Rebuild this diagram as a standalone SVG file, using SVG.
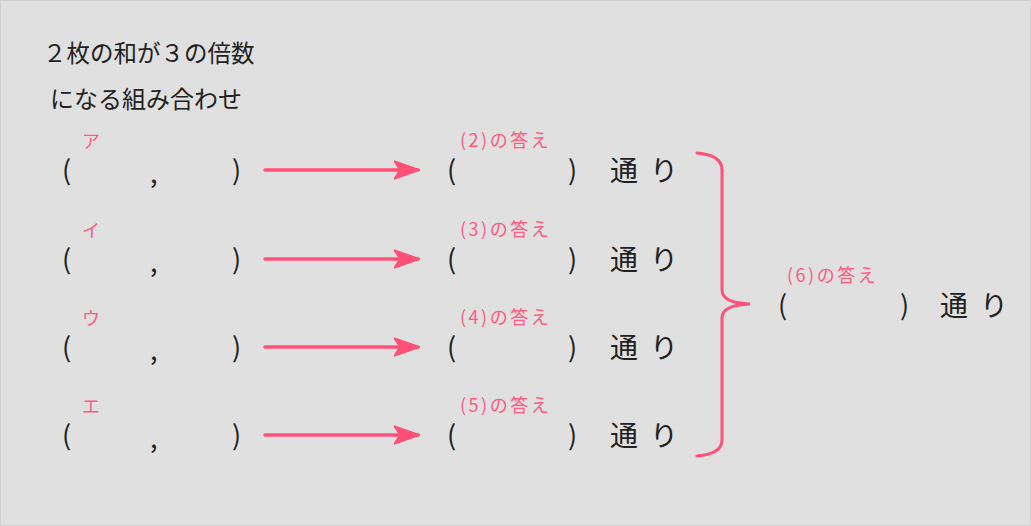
<svg xmlns="http://www.w3.org/2000/svg" width="1031" height="526" viewBox="0 0 1031 526">
<style>
.t{font-family:"Noto Sans CJK JP","Noto Sans",sans-serif;fill:#222;}
.big{font-size:27px;}
.tr{font-size:28px;letter-spacing:12px;}
.ttl{font-size:23.5px;}
.lab{font-family:"Noto Sans CJK JP","Noto Sans",sans-serif;fill:#ff5a80;font-size:18px;letter-spacing:2.5px;}
.conn{stroke:#ff5077;stroke-width:3.5;fill:none;stroke-linecap:round;}
.brace{stroke:#ff5077;stroke-width:3;fill:none;stroke-linecap:round;}
</style>
<defs>
<marker id="ah" markerWidth="26" markerHeight="20" refX="24" refY="10" orient="auto" markerUnits="userSpaceOnUse" viewBox="0 0 26 20">
<path d="M0,1 L26,10 L0,19 L6,10 Z" fill="#ff5077" stroke="#ff5077" stroke-width="1.5" stroke-linejoin="round"/>
</marker>
</defs>
<rect x="0.5" y="0.5" width="1030" height="525" fill="#e0e0e0" stroke="#d0d0d0"/>
<g id="title">
<text class="t ttl" x="43" y="62">２枚の和が３の倍数</text>
<text class="t ttl" x="50" y="108" style="font-size:24px">になる組み合わせ</text>
</g>
<g id="row1">
<text class="t big" x="62" y="180">(</text><text class="t big" x="150" y="183">,</text><text class="t big" x="232" y="180">)</text>
<text class="lab" x="82" y="148">ア</text>
</g>
<g id="row2">
<text class="t big" x="62" y="269">(</text><text class="t big" x="150" y="272">,</text><text class="t big" x="232" y="269">)</text>
<text class="lab" x="82" y="237">イ</text>
</g>
<g id="row3">
<text class="t big" x="62" y="357">(</text><text class="t big" x="150" y="360">,</text><text class="t big" x="232" y="357">)</text>
<text class="lab" x="82" y="325">ウ</text>
</g>
<g id="row4">
<text class="t big" x="62" y="445">(</text><text class="t big" x="150" y="448">,</text><text class="t big" x="232" y="445">)</text>
<text class="lab" x="82" y="413">エ</text>
</g>
<g id="ans2">
<text class="t big" x="447" y="180">(</text><text class="t big" x="568" y="180">)</text>
<text class="t tr" x="610" y="181">通り</text>
<text class="lab" x="460" y="147">(2)の答え</text>
</g>
<g id="ans3">
<text class="t big" x="447" y="269">(</text><text class="t big" x="568" y="269">)</text>
<text class="t tr" x="610" y="270">通り</text>
<text class="lab" x="460" y="236">(3)の答え</text>
</g>
<g id="ans4">
<text class="t big" x="447" y="357">(</text><text class="t big" x="568" y="357">)</text>
<text class="t tr" x="610" y="358">通り</text>
<text class="lab" x="460" y="324">(4)の答え</text>
</g>
<g id="ans5">
<text class="t big" x="447" y="445">(</text><text class="t big" x="568" y="445">)</text>
<text class="t tr" x="610" y="446">通り</text>
<text class="lab" x="460" y="412">(5)の答え</text>
</g>
<g id="ans6">
<text class="t big" x="778" y="315">(</text><text class="t big" x="900" y="315">)</text>
<text class="t tr" x="940" y="316">通り</text>
<text class="lab" x="787" y="282">(6)の答え</text>
</g>
<g id="connectors">
<line class="conn" x1="265" y1="170" x2="418" y2="170" marker-end="url(#ah)"/>
<line class="conn" x1="265" y1="259" x2="418" y2="259" marker-end="url(#ah)"/>
<line class="conn" x1="265" y1="347" x2="418" y2="347" marker-end="url(#ah)"/>
<line class="conn" x1="265" y1="435" x2="418" y2="435" marker-end="url(#ah)"/>
<path class="brace" d="M697,153 Q722,155 722,170 L722,290 Q722,303 750,304 Q722,305 722,318 L722,440 Q722,454 697,456"/>
</g>
</svg>
